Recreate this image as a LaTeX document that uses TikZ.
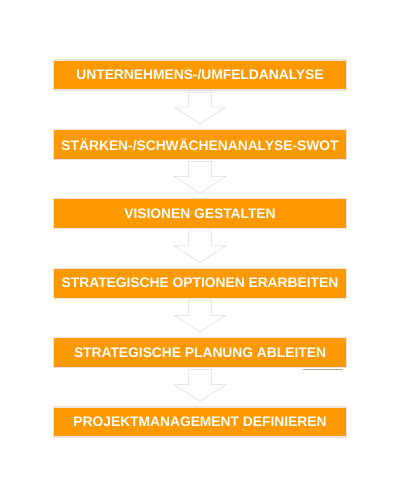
\documentclass[tikz,border=0pt]{standalone}
\usepackage{fontspec}
\setmainfont{Liberation Sans}
\usetikzlibrary{positioning,calc}
\definecolor{stepfill}{HTML}{FF9900}
\definecolor{stepedge}{HTML}{EDE3D8}
\definecolor{arrowedge}{HTML}{DCDCDC}

\tikzset{
  stepbox/.style={rectangle, fill=stepfill, draw=stepedge, line width=1.2pt,
    minimum width=293pt, minimum height=30pt, inner sep=0pt,
    font=\fontsize{13.8}{16}\selectfont\bfseries, text=white},
  flowarrow/.style={fill=white, draw=arrowedge, line width=0.5pt, line join=miter}
}

\begin{document}
\begin{tikzpicture}[x=1pt,y=1pt,node distance=38.2pt]
  \useasboundingbox (0,0) rectangle (400,500);
  \node[stepbox] (s1) at (200,425) {UNTERNEHMENS-/UMFELDANALYSE};
  \node[stepbox,below=of s1] (s2) {STÄRKEN-/SCHWÄCHENANALYSE-SWOT};
  \node[stepbox,below=of s2] (s3) {VISIONEN GESTALTEN};
  \node[stepbox,below=of s3] (s4) {STRATEGISCHE OPTIONEN ERARBEITEN};
  \node[stepbox,below=of s4] (s5) {STRATEGISCHE PLANUNG ABLEITEN};
  \node[stepbox,below=of s5] (s6) {PROJEKTMANAGEMENT DEFINIEREN};
  % arrows between the steps
  \foreach \a/\b in {s1/s2,s2/s3,s3/s4,s4/s5,s5/s6}{
    \draw[flowarrow] ($(\a.south)+(-11.5,-1.5)$) -- ++(0,-15) -- ++(-14.5,0)
      -- ($(\b.north)+(0,5)$) -- ($(\a.south)+(26,-16.5)$) -- ++(-14.5,0)
      -- ++(0,15) -- cycle;
  }
  % thin line under the fifth step
  \draw[gray!60!brown!70, line width=0.6pt] ($(s5.south east)+(-44,-1.5)$) -- ++(40,0);
\end{tikzpicture}
\end{document}
